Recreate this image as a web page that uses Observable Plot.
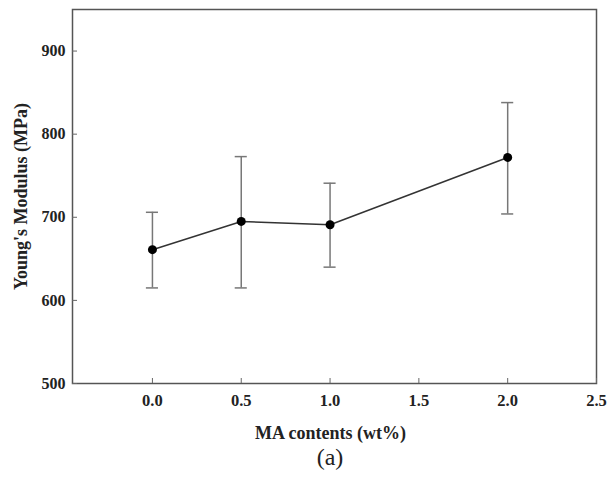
<!DOCTYPE html>
<html>
<head>
<meta charset="utf-8">
<script src="https://cdn.jsdelivr.net/npm/d3@7"></script>
<script src="https://cdn.jsdelivr.net/npm/@observablehq/plot@0.6"></script>
<style>
  html, body { margin: 0; padding: 0; background: #fff; }
  #wrap { position: relative; width: 616px; height: 478px; font-family: "Liberation Serif", "DejaVu Serif", serif; }
  #caption { position: absolute; left: 0; width: 660px; top: 443px; text-align: center; font-size: 24px; line-height: 28px; color: #222; }
</style>
</head>
<body>
<div id="wrap">
  <div id="chart"></div>
  <div id="caption">(a)</div>
</div>
<script>
const maContent = [0.0, 0.5, 1.0, 2.0];
const modulus = [661, 695, 691, 772];
const errLow = [615, 615, 640, 704];
const errHigh = [706, 773, 741, 838];
const xTicks = [0.0, 0.5, 1.0, 1.5, 2.0, 2.5];
const yTicks = [500, 600, 700, 800, 900];
const xTitle = ["MA contents (wt%)"];
const yTitle = ["Young's Modulus (MPa)"];

const data = maContent.map((x, i) => ({x, y: modulus[i], lo: errLow[i], hi: errHigh[i]}));
const capHalf = 0.034;
const fmt = d3.format(".1f");

const chart = Plot.plot({
  width: 616,
  height: 445,
  marginLeft: 72,
  marginRight: 20,
  marginTop: 9,
  marginBottom: 62,
  style: {fontFamily: "'Liberation Serif', serif", fontSize: "15px", fontWeight: "bold", color: "#222", background: "#fff"},
  x: {domain: [-0.45, 2.5]},
  y: {domain: [500, 950]},
  marks: [
    Plot.frame({stroke: "#555", strokeWidth: 1.5}),
    Plot.axisX(xTicks, {tickSize: -5, text: null, stroke: "#666", label: null}),
    Plot.axisY(yTicks, {tickSize: -5, text: null, stroke: "#666", label: null}),
    Plot.text(xTicks, {x: d => d, text: fmt, frameAnchor: "bottom", lineAnchor: "middle", dy: 17, fontSize: 16.5, fontWeight: "bold", fill: "#222"}),
    Plot.text(yTicks, {y: d => d, text: d => String(d), frameAnchor: "left", textAnchor: "end", lineAnchor: "middle", dx: -7, fontSize: 16, fontWeight: "bold", fill: "#222"}),
    Plot.text(xTitle, {text: d => d, frameAnchor: "bottom", textAnchor: "middle", lineAnchor: "middle", dy: 50, dx: -4, fontSize: 18, fontWeight: "bold", fill: "#222"}),
    Plot.text(yTitle, {text: d => d, frameAnchor: "left", textAnchor: "middle", lineAnchor: "middle", rotate: -90, dx: -51, fontSize: 18, fontWeight: "bold", fill: "#222"}),
    Plot.ruleX(data, {x: "x", y1: "lo", y2: "hi", stroke: "#777", strokeWidth: 1.5}),
    Plot.ruleY(data, {y: "hi", x1: d => d.x - capHalf, x2: d => d.x + capHalf, stroke: "#777", strokeWidth: 1.5}),
    Plot.ruleY(data, {y: "lo", x1: d => d.x - capHalf, x2: d => d.x + capHalf, stroke: "#777", strokeWidth: 1.5}),
    Plot.line(data, {x: "x", y: "y", stroke: "#333", strokeWidth: 1.5}),
    Plot.dot(data, {x: "x", y: "y", r: 4.5, fill: "#000", stroke: "none"})
  ]
});
document.getElementById("chart").appendChild(chart);
</script>
</body>
</html>
